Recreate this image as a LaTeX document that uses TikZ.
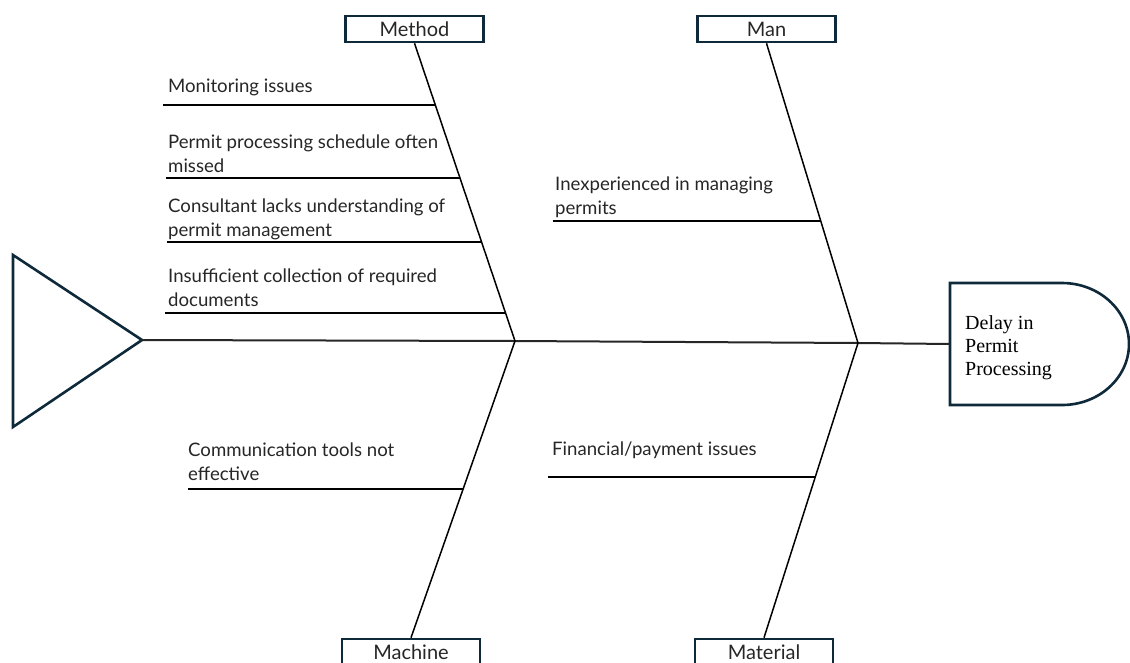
\documentclass[tikz,border=0pt]{standalone}
\usepackage{fontspec}
\setmainfont{Liberation Serif}
\newfontfamily\causefont{Lato}
\usetikzlibrary{positioning,intersections}
\definecolor{navy}{HTML}{0E2A3A}

\begin{document}
\begin{tikzpicture}[x=1pt,y=-1pt,
        catbox/.style={draw=navy,line width=2.6pt,minimum width=138pt,
            minimum height=26pt,inner sep=0pt,text=black!85,
            font=\causefont\fontsize{20}{20}\selectfont},
        cause/.style={anchor=base west,align=left,inner sep=0pt,text=black!85,
            font=\causefont\fontsize{18.6}{24}\selectfont},
        bone/.style={line width=1.5pt},
        subbone/.style={line width=2pt},
        spine/.style={line width=2pt,black!85},
        outline/.style={draw=navy,line width=2.6pt,line join=miter}
    ]
\useasboundingbox (0,0) rectangle (1130,662);
% tail, spine and head
\coordinate (tail) at (142,340);
\coordinate (j1) at (515,341);
\coordinate (j2) at (858,343);
\coordinate (headin) at (950,344);
\draw[outline] (13,255) -- (tail) -- (13,427) -- cycle;
\draw[outline] (950,283) -- (1062,283)
    arc[start angle=90,end angle=-90,x radius=67pt,y radius=61pt]
    -- (950,405) -- cycle;
\node[anchor=base west,align=left,inner sep=0pt,
    font=\fontsize{20}{23}\selectfont] (effect) at (965,375)
    {Delay in\\Permit\\Processing};
\draw[spine] (tail) -- (j1) -- (j2) -- (headin);
% categories
\node[catbox] (method) at (414.5,29) {Method};
\node[catbox] (man) at (766.5,29) {Man};
\node[catbox] (machine) at (411,652) {Machine};
\node[catbox] (material) at (764,652) {Material};
\draw[bone,name path=methodbone] (method.south) -- (j1);
\draw[bone,name path=manbone] (man.south) -- (j2);
\draw[bone,name path=machinebone] (machine.north) -- (j1);
\draw[bone,name path=materialbone] (material.north) -- (j2);
% causes (base = last line)
\node[cause] (mon) at (168,92) {Monitoring issues};
\node[cause] (sched) at (168,172) {Permit processing schedule often\\missed};
\node[cause] (cons) at (168,236) {Consultant lacks understanding of\\permit management};
\node[cause] (docs) at (168,306) {Insufficient collection of required\\documents};
\node[cause] (inexp) at (555,214) {Inexperienced in managing\\permits};
\node[cause] (comm) at (188,480) {Communication tools not\\effective};
\node[cause] (fin) at (552,455) {Financial/payment issues};
\coordinate (mon-l) at (163,105);
\coordinate (sched-l) at (166,178);
\coordinate (cons-l) at (167,242);
\coordinate (docs-l) at (165,313);
\coordinate (inexp-l) at (553,221);
\coordinate (comm-l) at (188,489);
\coordinate (fin-l) at (548,477);
\foreach \s/\b in {mon-l/methodbone,sched-l/methodbone,cons-l/methodbone,
        docs-l/methodbone,inexp-l/manbone,comm-l/machinebone,fin-l/materialbone}{
    \path[name path=reach] (\s) -- ++(450,0);
    \draw[subbone,name intersections={of=reach and \b}] (\s) -- (intersection-1);
}
\end{tikzpicture}
\end{document}
